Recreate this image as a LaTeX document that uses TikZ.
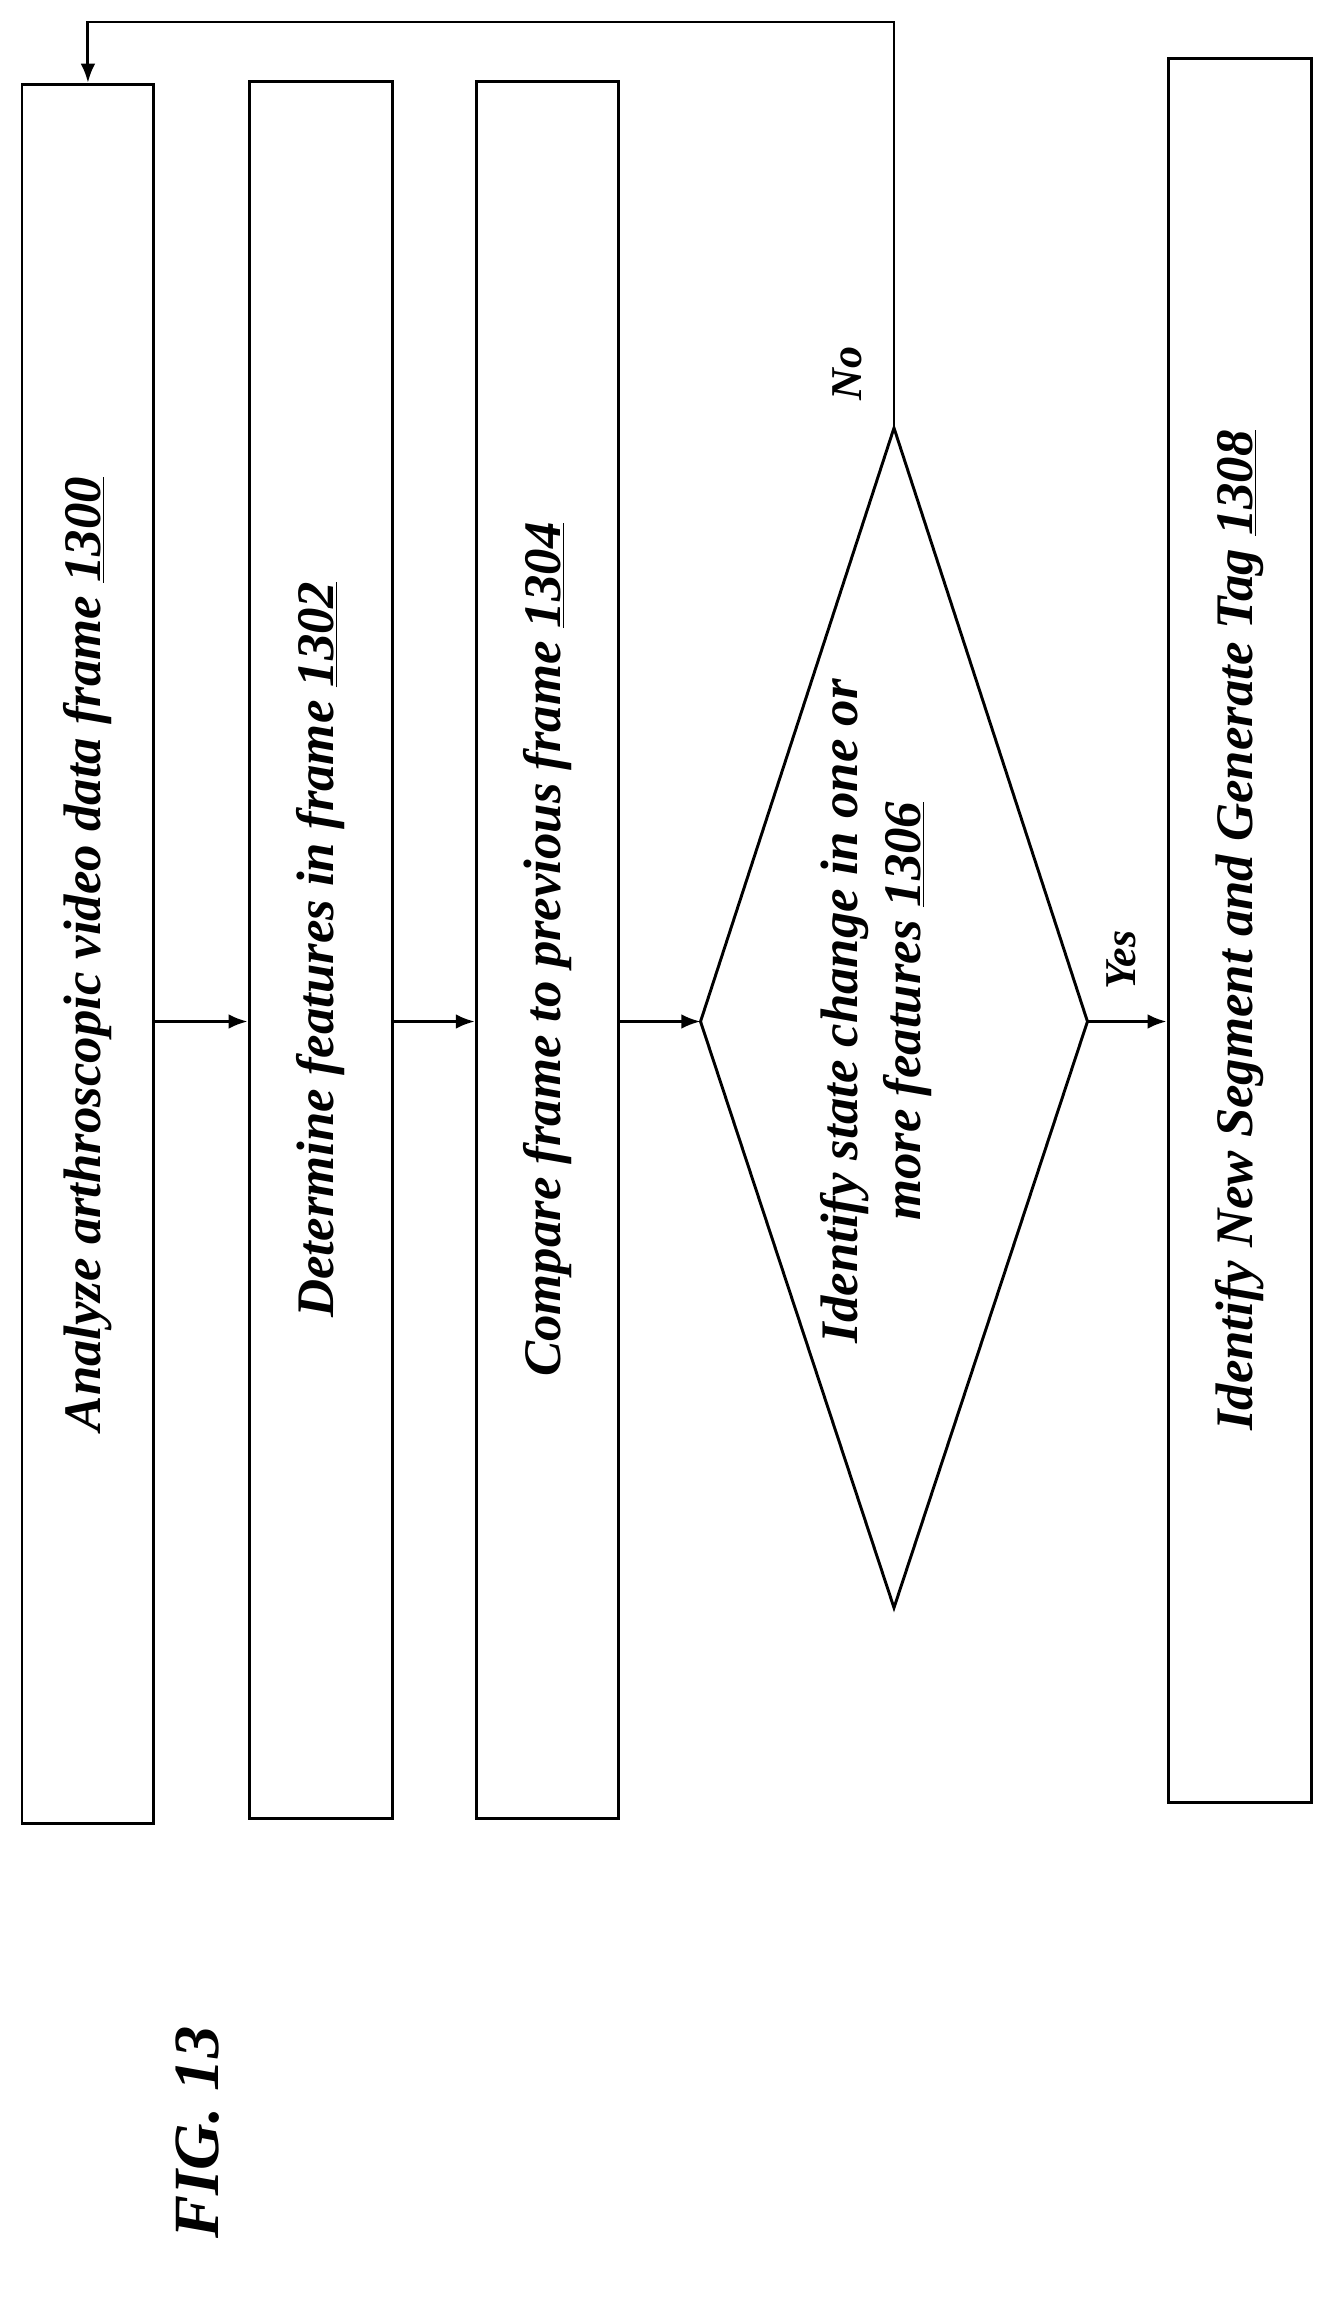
\documentclass[tikz,border=0pt]{standalone}
\usepackage{fontspec}
\setmainfont{Liberation Serif}
\usetikzlibrary{arrows.meta}

\tikzset{
  stepbox/.style={draw,line width=2pt,rotate=90,inner sep=0pt,
    font=\fontsize{36}{44}\selectfont\bfseries\itshape},
  flow/.style={line width=2pt,-{Latex[length=13pt,width=10pt]}},
  lbl/.style={rotate=90,font=\fontsize{36}{43}\selectfont\bfseries\itshape}
}

\begin{document}
\begin{tikzpicture}[x=1pt,y=1pt]
\useasboundingbox (0,0) rectangle (910,-1568);

% boxes
\node [stepbox,minimum width=1187pt,minimum height=90pt] (analyze) at (60,-651) {Analyze arthroscopic video data frame \underline{1300}};
\node [stepbox,minimum width=1185pt,minimum height=98pt] (features) at (219,-648) {Determine features in frame \underline{1302}};
\node [stepbox,minimum width=1185pt,minimum height=97pt] (compare) at (373.5,-648) {Compare frame to previous frame \underline{1304}};
\node [stepbox,minimum width=1190pt,minimum height=98pt] (segment) at (846,-635) {Identify New Segment and Generate Tag \underline{1308}};

% decision
\coordinate (dl) at (478,-697);
\coordinate (dt) at (610,-292);
\coordinate (dr) at (742,-697);
\coordinate (db) at (610,-1097);
\draw [line width=2pt] (dl) -- (dt) -- (dr) -- (db) -- cycle;
\node [lbl,align=center] (ident) at (598,-690) {Identify state change in one or\\more features \underline{1306}};

% connectors
\draw [flow] (analyze.south |- dl) -- (features.north |- dl);
\draw [flow] (features.south |- dl) -- (compare.north |- dl);
\draw [flow] (compare.south |- dl) -- (dl);
\draw [flow] (dr) -- (segment.north |- dl);
\draw [flow] (dt) -- (dt |- 0,-15) -- (analyze.east |- 0,-15) -- (analyze.east);

\node [lbl,font=\fontsize{30}{36}\selectfont\bfseries\itshape] (yes) at (765,-655) {Yes};
\node [lbl,font=\fontsize{30}{36}\selectfont\bfseries\itshape] (no) at (578,-255) {No};
\node [rotate=90,font=\fontsize{44}{50}\selectfont\bfseries\itshape] (fig) at (135,-1455) {FIG. 13};
\end{tikzpicture}
\end{document}
